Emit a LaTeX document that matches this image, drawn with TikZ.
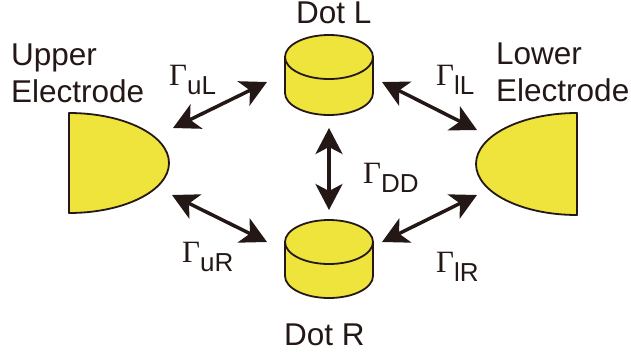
\documentclass[tikz,border=0pt]{standalone}
\usepackage{fontspec}
\setmainfont{Liberation Sans}
\newfontfamily\gfont{Liberation Serif}
\usetikzlibrary{arrows.meta}
\definecolor{ink}{RGB}{35,24,21}
\definecolor{gold}{RGB}{238,228,60}
\newcommand{\labtext}{\fontsize{31.5}{37}\selectfont}
\newcommand{\gam}[1]{{\gfont\fontsize{31}{31}\selectfont Γ}\raisebox{-9pt}{\fontsize{26}{26}\selectfont #1}}
\tikzset{
  body/.style={fill=gold,draw=ink,line width=1.8pt,line join=round},
  link/.style={draw=ink,line width=3.5pt,{Stealth[length=26pt,width=27pt,inset=7pt]}-{Stealth[length=26pt,width=27pt,inset=7pt]}},
  lab/.style={text=ink,inner sep=0pt,anchor=base west,font=\labtext},
  glab/.style={text=ink,inner sep=0pt,anchor=base west}
}
\begin{document}
\begin{tikzpicture}[x=1pt,y=-1pt]
\useasboundingbox (0,0) rectangle (631,356);
% electrodes
\path[body] (69,113) arc[start angle=90,end angle=-90,x radius=100pt,y radius=50pt] -- cycle;
\path[body] (577,113) arc[start angle=90,end angle=270,x radius=101pt,y radius=51pt] -- cycle;
% Dot L
\path[body] (285,57) -- (285,93) arc[start angle=180,end angle=360,x radius=44pt,y radius=22pt] -- (373,57);
\path[body] (329,57) ellipse[x radius=44pt,y radius=22pt];
% Dot R
\path[body] (285,242) -- (285,276) arc[start angle=180,end angle=360,x radius=44pt,y radius=22pt] -- (373,242);
\path[body] (329,242) ellipse[x radius=44pt,y radius=22pt];
% texts
\node[lab] (upper1) at (11,65) {Upper};
\node[lab] (upper2) at (11,102) {Electrode};
\node[lab] (lower1) at (496,64) {Lower};
\node[lab] (lower2) at (496,101) {Electrode};
\node[lab] (dotL) at (296,23.5) {Dot L};
\node[lab] (dotR) at (284,345) {Dot R};
\node[glab] (guL) at (169,85) {\gam{uL}};
\node[glab] (glL) at (436,85) {\gam{lL}};
\node[glab] (gDD) at (363,183) {\gam{DD}};
\node[glab] (guR) at (182,262) {\gam{uR}};
\node[glab] (glR) at (436,272) {\gam{lR}};
% arrow ends
\coordinate (uLa) at (173,128); \coordinate (uLb) at (267,82);
\coordinate (lLa) at (382,82);  \coordinate (lLb) at (477,130);
\coordinate (uRa) at (172,195); \coordinate (uRb) at (267,242);
\coordinate (lRa) at (382,242); \coordinate (lRb) at (477,195);
\coordinate (DDa) at (329,128); \coordinate (DDb) at (329,210);
\draw[link] (uLa) -- (uLb);
\draw[link] (lLa) -- (lLb);
\draw[link] (uRa) -- (uRb);
\draw[link] (lRa) -- (lRb);
\draw[link] (DDa) -- (DDb);
\end{tikzpicture}
\end{document}
